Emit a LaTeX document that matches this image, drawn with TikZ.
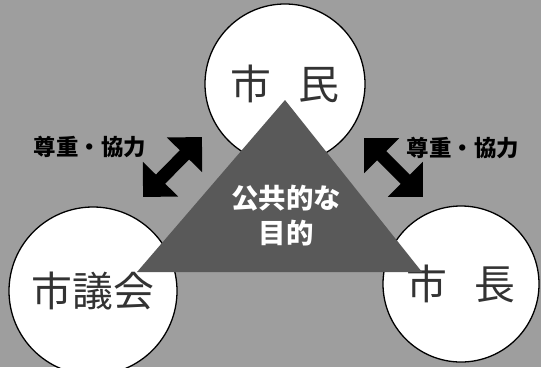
\documentclass[tikz,border=0pt]{standalone}
\usepackage{fontspec}
\newfontfamily\jpfont{Noto Sans CJK JP}
\usetikzlibrary{arrows.meta, positioning}

\definecolor{bggray}{gray}{0.62}
\definecolor{trigray}{gray}{0.35}
\definecolor{txtgray}{gray}{0.2}

\tikzset{
	member/.style={circle, draw=black, line width=1.3bp, fill=white, inner sep=0pt, text=txtgray, font=\jpfont\fontsize{41}{41}\selectfont},
	bigarrow/.style={line width=13bp, {Triangle[length=25bp,width=48bp]}-{Triangle[length=25bp,width=48bp]}},
	relation/.style={font=\jpfont\bfseries\fontsize{22.5}{22.5}\selectfont},
	purpose/.style={align=center, text=white, font=\jpfont\bfseries\fontsize{27.5}{35}\selectfont},
}

\begin{document}
\begin{tikzpicture}[x=1bp, y=-1bp]
		\clip (0,0) rectangle (541,367);
		\fill[bggray] (0,0) rectangle (541,367);
		\node[member, minimum size=160bp](citizen) at (285,84) {市\hspace{0.65em}民};
		\node[member, minimum size=168bp](council) at (93,291) {市議会};
		\node[member, minimum size=156bp](mayor) at (461,284) {市\hspace{0.65em}長};
		\fill[trigray] (285,100) -- (137,272) -- (422,272) -- cycle;
		\node[purpose](goal) at (286,216) {公共的な\\目的};
		\coordinate (la) at (143,197);
		\coordinate (lb) at (202,137);
		\coordinate (ra) at (364,138);
		\coordinate (rb) at (423,197);
		\draw [bigarrow] (la) -- (lb);
		\draw [bigarrow] (ra) -- (rb);
		\node[relation](respectl) at (90,147) {尊重・協力};
		\node[relation](respectr) at (463,148) {尊重・協力};
	\end{tikzpicture}
\end{document}
